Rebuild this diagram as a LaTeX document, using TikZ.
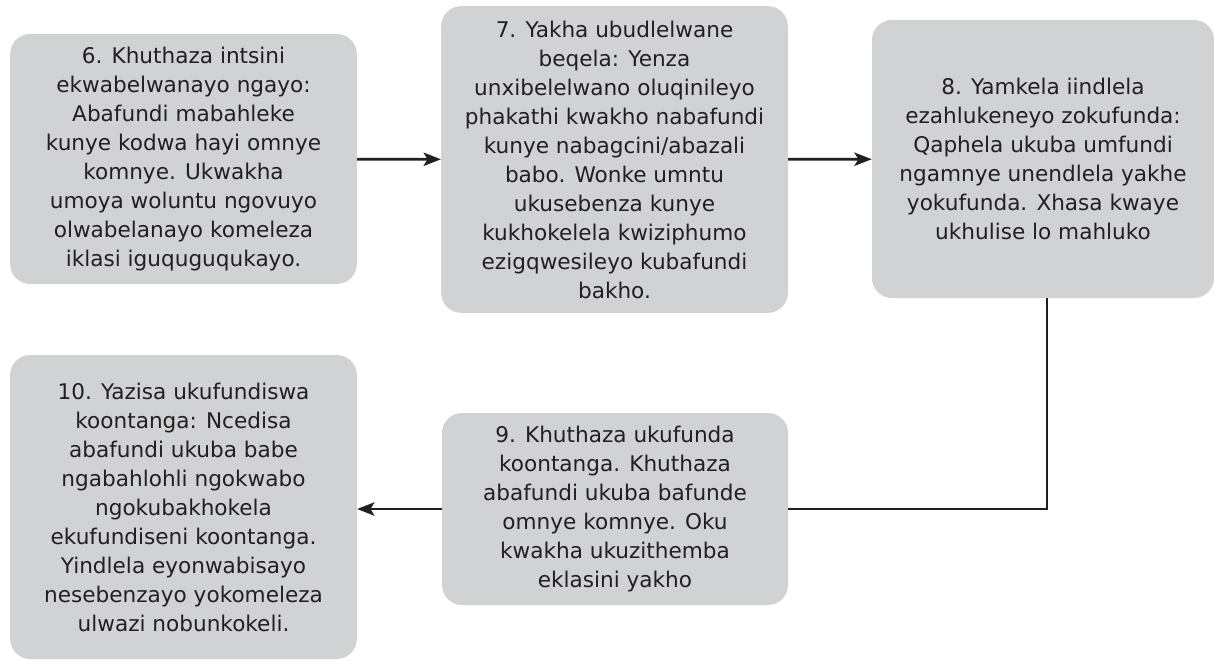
\documentclass[tikz,border=0pt]{standalone}
\usepackage{fontspec}
\setmainfont{DejaVu Sans}
\usetikzlibrary{arrows.meta}
\definecolor{cardgray}{RGB}{209,210,212}
\definecolor{ink}{RGB}{35,31,32}

\begin{document}
\begin{tikzpicture}[x=0.75pt, y=-0.75pt]
            \tikzstyle{card} = [fill=cardgray, rounded corners=15pt, text=ink, align=center,
                inner sep=0pt, font={\fontsize{16.2}{21.75}\selectfont}]
            \tikzstyle{link} = [line width=2.1pt, draw=ink]
            \tikzstyle{flow} = [link, -{Stealth[length=13pt, width=10pt, inset=3pt]}]
            \useasboundingbox (0, 0) rectangle (1214, 660);

            \node[card, minimum width=260pt, minimum height=187.5pt] (six) at (183.5, 159)
                {6. Khuthaza intsini\\ ekwabelwanayo ngayo:\\ Abafundi mabahleke\\ kunye kodwa hayi omnye\\
                 komnye. Ukwakha\\ umoya woluntu ngovuyo\\ olwabelanayo komeleza\\ iklasi iguquguqukayo.};
            \node[card, minimum width=260pt, minimum height=230pt] (seven) at (614.5, 159.5)
                {7. Yakha ubudlelwane\\ beqela: Yenza\\ unxibelelwano oluqinileyo\\ phakathi kwakho nabafundi\\
                 kunye nabagcini/abazali\\ babo. Wonke umntu\\ ukusebenza kunye\\ kukhokelela kwiziphumo\\
                 ezigqwesileyo kubafundi\\ bakho.};
            \node[card, minimum width=256.5pt, minimum height=208.5pt] (eight) at (1043, 159)
                {8. Yamkela iindlela\\ ezahlukeneyo zokufunda:\\ Qaphela ukuba umfundi\\ ngamnye unendlela yakhe\\
                 yokufunda. Xhasa kwaye\\ ukhulise lo mahluko};
            \node[card, minimum width=259.5pt, minimum height=144pt] (nine) at (615, 509)
                {9. Khuthaza ukufunda\\ koontanga. Khuthaza\\ abafundi ukuba bafunde\\ omnye komnye. Oku\\
                 kwakha ukuzithemba\\ eklasini yakho};
            \node[card, minimum width=260pt, minimum height=228pt] (ten) at (183.5, 507)
                {10. Yazisa ukufundiswa\\ koontanga: Ncedisa\\ abafundi ukuba babe\\ ngabahlohli ngokwabo\\
                 ngokubakhokela\\ ekufundiseni koontanga.\\ Yindlela eyonwabisayo\\ nesebenzayo yokomeleza\\
                 ulwazi nobunkokeli.};

            \draw[flow] (six) -- (seven);
            \draw[flow] (seven) -- (eight);
            \draw[link] ([xshift=3pt]eight.south) |- (nine.east);
            \draw[flow] (nine.west) -- (nine.west -| ten.east);
        \end{tikzpicture}
\end{document}
